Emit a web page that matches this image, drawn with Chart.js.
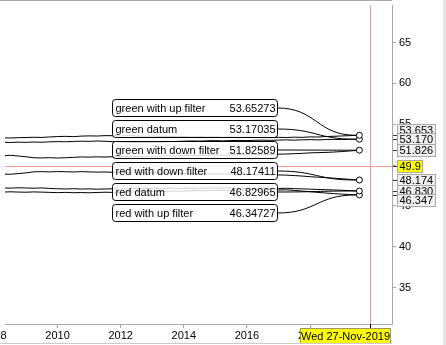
<!DOCTYPE html>
<html>
<head>
<meta charset="utf-8">
<script src="https://cdn.jsdelivr.net/npm/chart.js@4.4.0/dist/chart.umd.min.js"></script>
<style>
  html, body { margin: 0; padding: 0; background: #fff; overflow: hidden; }
  canvas { display: block; }
</style>
</head>
<body>
<canvas id="chart" width="446" height="345"></canvas>
<script>
// decimal years, quarterly samples up to the last bar
const dates = [
  2008.0, 2008.25, 2008.5, 2008.75,
  2009.0, 2009.25, 2009.5, 2009.75,
  2010.0, 2010.25, 2010.5, 2010.75,
  2011.0, 2011.25, 2011.5, 2011.75,
  2012.0, 2012.25, 2012.5, 2012.75,
  2013.0, 2013.25, 2013.5, 2013.75,
  2014.0, 2014.25, 2014.5, 2014.75,
  2015.0, 2015.25, 2015.5, 2015.75,
  2016.0, 2016.25, 2016.5, 2016.75,
  2017.0, 2017.25, 2017.5, 2017.75,
  2018.0, 2018.25, 2018.5, 2018.75,
  2019.0, 2019.25, 2019.56
];

const seriesNames = ["green with up filter", "green datum", "green with down filter",
  "red with down filter", "red datum", "red with up filter"];

const greenUp = [
  53.33, 53.35, 53.32, 53.36,
  53.38, 53.41, 53.39, 53.45,
  53.50, 53.52, 53.49, 53.55,
  53.58, 53.56, 53.61, 53.60,
  53.58, 53.62, 53.57, 53.54,
  53.56, 53.51, 53.53, 53.48,
  53.50, 53.46, 53.49, 53.44,
  53.47, 53.42, 53.45, 53.40,
  53.43, 53.39, 53.41, 53.37,
  53.40, 53.38, 53.42, 53.40,
  53.46, 53.44, 53.50, 53.53,
  53.57, 53.61, 53.65273
];
const greenDatum = [
  52.78, 52.80, 52.77, 52.81,
  52.79, 52.83, 52.80, 52.85,
  52.88, 52.86, 52.90, 52.93,
  52.91, 52.95, 52.92, 52.88,
  52.84, 52.80, 52.76, 52.75,
  52.77, 52.80, 52.86, 52.90,
  52.93, 52.96, 52.94, 52.98,
  53.00, 52.97, 53.01, 53.03,
  53.00, 53.04, 53.06, 53.03,
  53.07, 53.09, 53.06, 53.10,
  53.12, 53.09, 53.13, 53.15,
  53.12, 53.16, 53.17035
];
const greenDown = [
  51.16, 51.14, 51.20, 51.12,
  51.02, 50.90, 50.88, 50.91,
  50.87, 50.90, 50.95, 51.00,
  50.98, 51.01, 50.99, 51.03,
  51.05, 51.02, 51.06, 51.09,
  51.07, 51.11, 51.14, 51.12,
  51.16, 51.19, 51.17, 51.21,
  51.24, 51.22, 51.26, 51.28,
  51.25, 51.29, 51.32, 51.30,
  51.34, 51.36, 51.40, 51.44,
  51.50, 51.53, 51.56, 51.60,
  51.66, 51.73, 51.82589
];
const redDown = [
  48.87, 48.90, 48.88, 48.96,
  49.05, 49.18, 49.20, 49.17,
  49.21, 49.19, 49.16, 49.20,
  49.17, 49.14, 49.16, 49.12,
  49.10, 49.12, 49.08, 49.05,
  49.07, 49.03, 49.00, 49.02,
  48.98, 48.95, 48.97, 48.93,
  48.90, 48.92, 48.88, 48.86,
  48.88, 48.84, 48.82, 48.84,
  48.80, 48.77, 48.72, 48.66,
  48.58, 48.52, 48.46, 48.40,
  48.33, 48.26, 48.17411
];
const redDatum = [
  47.19, 47.21, 47.18, 47.22,
  47.20, 47.17, 47.21, 47.14,
  47.10, 47.08, 47.11, 47.07,
  47.09, 47.05, 47.08, 47.10,
  47.07, 47.11, 47.13, 47.10,
  47.14, 47.12, 47.15, 47.17,
  47.14, 47.18, 47.16, 47.19,
  47.17, 47.20, 47.18, 47.15,
  47.18, 47.16, 47.19, 47.17,
  47.14, 47.16, 47.12, 47.09,
  47.06, 47.02, 46.99, 46.95,
  46.92, 46.88, 46.82965
];
const redUp = [
  46.71, 46.69, 46.73, 46.70,
  46.68, 46.72, 46.69, 46.66,
  46.63, 46.66, 46.62, 46.64,
  46.61, 46.65, 46.68, 46.66,
  46.70, 46.73, 46.71, 46.75,
  46.78, 46.76, 46.80, 46.83,
  46.81, 46.85, 46.88, 46.86,
  46.90, 46.92, 46.89, 46.93,
  46.95, 46.92, 46.96, 46.98,
  46.95, 46.97, 46.90, 46.82,
  46.74, 46.66, 46.58, 46.51,
  46.45, 46.40, 46.34727
];

const xTicks = [2008, 2010, 2012, 2014, 2016, 2018];
const yTicks = [35, 40, 45, 50, 55, 60, 65];
const xMin = 2008.334, xMax = 2020.594;
const yMin = 30.54, yMax = 69.61;

const cursorDate = 2019.9;
const cursorLabel = "Wed 27-Nov-2019";
const cursorValue = 49.9;

const allSeries = [greenUp, greenDatum, greenDown, redDown, redDatum, redUp];
const FONT = '11px "Liberation Sans", Arial, sans-serif';

function lastOf(arr) { return arr[arr.length - 1]; }

const overlay = {
  id: 'overlay',
  beforeDatasetsDraw(chart) {
    const { ctx, chartArea: a, scales: { x, y } } = chart;
    const cx = Math.round(x.getPixelForValue(cursorDate)) + 0.5;
    const cy = Math.round(y.getPixelForValue(cursorValue)) + 0.5;
    ctx.save();
    ctx.strokeStyle = '#f59a9a';
    ctx.lineWidth = 1;
    ctx.beginPath();
    ctx.moveTo(a.left, cy); ctx.lineTo(a.right, cy);
    ctx.moveTo(cx, a.top); ctx.lineTo(cx, a.bottom);
    ctx.stroke();
    ctx.restore();
  },
  afterDatasetsDraw(chart) {
    const { ctx } = chart;
    ctx.save();
    ctx.font = FONT;
    ctx.textBaseline = 'middle';
    ctx.lineWidth = 1;
    seriesNames.forEach((name, i) => {
      const left = 112.5, right = 277.5, h = 17;
      const top = 99.5 + i * 21;
      const mid = top + h / 2;
      const meta = chart.getDatasetMeta(i);
      const pt = meta.data[meta.data.length - 1];

      ctx.beginPath();
      ctx.roundRect(left, top, right - left, h, 3);
      ctx.fillStyle = 'rgba(255,255,255,0.82)';
      ctx.fill();
      ctx.strokeStyle = '#000';
      ctx.stroke();

      ctx.fillStyle = '#000';
      ctx.textAlign = 'left';
      ctx.fillText(name, left + 3, mid + 0.5);
      ctx.textAlign = 'right';
      ctx.fillText(lastOf(allSeries[i]).toFixed(5), right - 2, mid + 0.5);

      // leader curve from the box to the end point
      const ex = pt.x - 3.5, ey = pt.y;
      const mx = (right + ex) / 2;
      ctx.beginPath();
      ctx.moveTo(right, mid);
      ctx.bezierCurveTo(mx, mid, mx, ey, ex, ey);
      ctx.stroke();
    });
    ctx.restore();
  },
  afterDraw(chart) {
    const { ctx, chartArea: a, scales: { x, y } } = chart;
    ctx.save();
    ctx.font = FONT;
    ctx.textBaseline = 'middle';
    ctx.lineWidth = 1;

    // value tags on the right axis
    const items = allSeries.map(s => ({ v: lastOf(s), text: lastOf(s).toFixed(3), fill: '#efefef' }));
    items.push({ v: cursorValue, text: String(cursorValue), fill: '#ffff00' });
    items.sort((p, q) => q.v - p.v);
    items.forEach(it => { it.py = y.getPixelForValue(it.v); });
    const c = items.findIndex(it => it.v === cursorValue);
    items[c].ly = items[c].py;
    for (let i = c - 1; i >= 0; i--) items[i].ly = Math.min(items[i].py, items[i + 1].ly - 9);
    for (let i = c + 1; i < items.length; i++) items[i].ly = Math.max(items[i].py, items[i - 1].ly + 9);

    items.forEach(it => {
      const ty = Math.round(it.py) + 0.5;
      ctx.strokeStyle = '#333';
      ctx.beginPath();
      ctx.moveTo(a.right + 1, ty); ctx.lineTo(a.right + 5, ty);
      ctx.stroke();
      const w = Math.round(ctx.measureText(it.text).width) + 4;
      const top = Math.round(it.ly - 6) + 0.5;
      ctx.fillStyle = it.fill;
      ctx.fillRect(a.right + 5.5, top, w, 12);
      ctx.strokeStyle = '#a8a8a8';
      ctx.strokeRect(a.right + 5.5, top, w, 12);
      ctx.fillStyle = '#000';
      ctx.textAlign = 'left';
      ctx.fillText(it.text, a.right + 7.5, top + 6.5);
    });

    // cursor date tag on the bottom axis
    const cx = Math.round(x.getPixelForValue(cursorDate)) + 0.5;
    ctx.strokeStyle = '#000';
    ctx.beginPath();
    ctx.moveTo(cx, a.bottom); ctx.lineTo(cx, a.bottom + 4);
    ctx.stroke();
    const dw = Math.round(ctx.measureText(cursorLabel).width) + 1;
    const dl = Math.round(Math.min(cx - dw / 2, a.right - 2 - dw)) + 0.5;
    ctx.fillStyle = '#ffff00';
    ctx.fillRect(dl, a.bottom + 4.5, dw, 15);
    ctx.strokeStyle = '#9a9a60';
    ctx.strokeRect(dl, a.bottom + 4.5, dw, 15);
    ctx.fillStyle = '#000';
    ctx.textAlign = 'left';
    ctx.fillText(cursorLabel, dl + 0.5, a.bottom + 12.5);

    // frame
    ctx.strokeStyle = '#aaaaaa';
    ctx.beginPath();
    ctx.moveTo(0, 0.5); ctx.lineTo(a.right, 0.5);
    ctx.stroke();
    ctx.strokeStyle = '#cccccc';
    ctx.beginPath();
    ctx.moveTo(0, 343.5); ctx.lineTo(a.right, 343.5);
    ctx.stroke();
    ctx.fillStyle = '#e6e6e6';
    ctx.fillRect(443, 0, 3, 345);
    ctx.restore();
  }
};

const chartCanvas = document.getElementById("chart").getContext("2d");

const chartData = {
  datasets: allSeries.map((s, i) => ({
    label: seriesNames[i],
    data: s.map((v, j) => ({ x: dates[j], y: v })),
    borderColor: '#000',
    borderWidth: 1,
    tension: 0,
    pointRadius: c => (c.dataIndex === s.length - 1 ? 3 : 0),
    pointBorderWidth: 1,
    pointBorderColor: '#000',
    pointBackgroundColor: '#fff'
  }))
};

const chartOptions = {
  responsive: false,
  animation: false,
  layout: { padding: 0 },
  plugins: {
    legend: { display: false },
    tooltip: { enabled: false }
  },
  scales: {
    x: {
      type: 'linear',
      min: xMin,
      max: xMax,
      afterFit: s => { s.height = 21; s.paddingLeft = 0; s.paddingRight = 0; },
      afterBuildTicks: s => { s.ticks = xTicks.map(v => ({ value: v })); },
      ticks: {
        callback: v => String(v),
        autoSkip: false,
        maxRotation: 0,
        padding: 1,
        color: '#000',
        font: { family: '"Liberation Sans", Arial, sans-serif', size: 11 }
      },
      grid: { drawOnChartArea: false, tickLength: 4, color: '#a0a0a0' },
      border: { color: '#a8a8a8' }
    },
    y: {
      position: 'right',
      min: yMin,
      max: yMax,
      afterFit: s => { s.width = 54; s.paddingTop = 0; s.paddingBottom = 0; },
      afterBuildTicks: s => { s.ticks = yTicks.map(v => ({ value: v })); },
      ticks: {
        callback: v => String(v),
        padding: 3,
        color: '#000',
        font: { family: '"Liberation Sans", Arial, sans-serif', size: 11 }
      },
      grid: { drawOnChartArea: false, tickLength: 4, color: '#a0a0a0' },
      border: { color: '#a8a8a8' }
    }
  }
};

let mainChart = new Chart(chartCanvas, {
  type: 'line',
  data: chartData,
  options: chartOptions,
  plugins: [overlay]
});
</script>
</body>
</html>
